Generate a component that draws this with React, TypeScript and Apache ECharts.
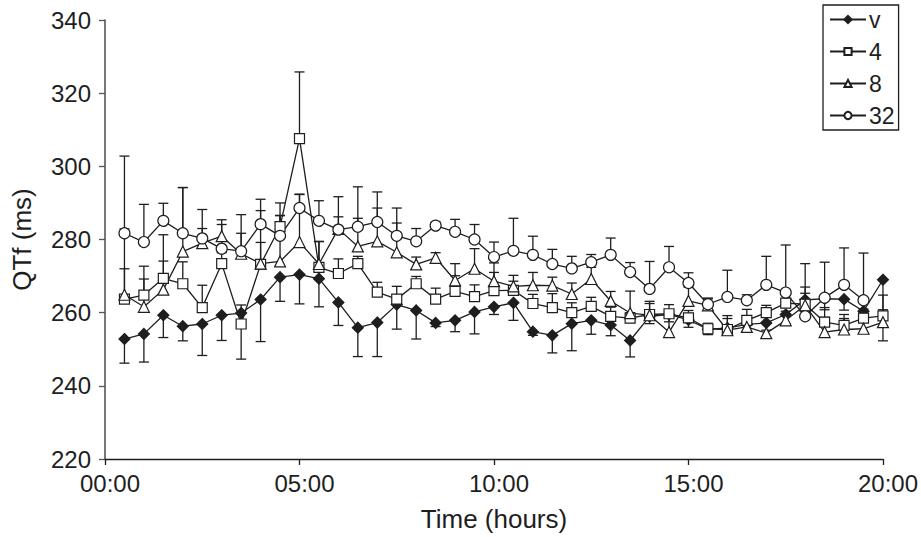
import React, { useEffect, useRef } from "react";
import * as echarts from "echarts";

const times = [0.5, 1, 1.5, 2, 2.5, 3, 3.5, 4, 4.5, 5, 5.5, 6, 6.5, 7, 7.5, 8, 8.5, 9, 9.5, 10,
  10.5, 11, 11.5, 12, 12.5, 13, 13.5, 14, 14.5, 15, 15.5, 16, 16.5, 17, 17.5, 18, 18.5, 19, 19.5, 20];

const vMean = [252.8, 254.2, 259.3, 256.3, 256.9, 259.3, 259.9, 263.6, 269.7, 270.4, 269.3, 262.8, 255.9, 257.3, 262.2, 260.6, 257.2, 257.9, 260.2, 261.6,
  262.7, 254.8, 253.8, 257.0, 257.9, 256.6, 252.4, 259.0, 259.5, 258.0, 255.5, 255.8, 256.8, 257.2, 259.5, 263.5, 263.8, 263.7, 260.4, 269.0];
const vErr = [6.6, 7.7, 6.1, 4.0, 8.6, 6.9, 12.6, 11.5, 6.6, 8.0, 7.7, 6.3, 7.9, 9.3, 6.7, 7.8, 1.0, 3.1, 6.0, 2.1,
  4.8, 1.0, 4.8, 7.4, 3.8, 2.9, 4.5, 2.0, 2.0, 2.0, 1.5, 2.0, 2.0, 2.0, 2.5, 3.0, 3.0, 3.0, 2.0, 16.7];

const s4Mean = [263.7, 264.8, 269.4, 267.9, 261.4, 273.4, 256.9, 273.2, 283.5, 307.6, 272.4, 270.7, 273.4, 265.6, 263.7, 267.9, 263.7, 265.8, 264.4, 266.0,
  266.1, 262.5, 261.4, 260.0, 261.7, 259.0, 258.5, 259.5, 259.7, 258.6, 255.6, 255.4, 257.9, 260.0, 262.6, 262.3, 257.4, 256.5, 258.5, 259.1];
const s4Err = [8.3, 7.9, 4.7, 6.0, 6.1, 3.0, 5.2, 6.0, 3.0, 18.2, 7.0, 4.0, 2.0, 2.7, 3.5, 2.0, 3.0, 4.3, 3.2, 5.0,
  2.5, 2.5, 3.8, 2.7, 2.5, 2.5, 1.5, 3.0, 2.5, 2.0, 1.5, 3.0, 3.0, 2.0, 3.0, 3.0, 4.0, 3.0, 2.5, 1.7];

const s8Mean = [264.9, 261.6, 266.3, 276.7, 279.0, 280.9, 276.1, 273.4, 274.0, 279.3, 273.3, 282.9, 278.1, 279.5, 276.5, 273.2, 275.0, 268.8, 272.0, 268.6,
  267.2, 267.5, 267.4, 265.1, 269.2, 263.2, 259.9, 259.3, 254.7, 263.2, 262.0, 255.2, 256.1, 254.4, 257.9, 262.0, 254.7, 255.4, 255.6, 257.4];
const s8Err = [18.0, 7.6, 15.0, 17.5, 4.0, 3.2, 5.6, 14.5, 12.6, 13.0, 6.2, 3.3, 7.7, 9.1, 8.0, 2.0, 1.4, 4.6, 5.5, 5.0,
  3.0, 3.5, 2.3, 3.0, 3.2, 2.6, 6.0, 3.8, 5.0, 3.8, 2.0, 4.0, 3.0, 3.0, 2.5, 5.0, 4.0, 3.0, 3.0, 7.4];

const s32Mean = [281.7, 279.3, 285.1, 281.7, 280.3, 277.5, 276.8, 284.2, 281.0, 288.6, 285.1, 282.7, 283.5, 284.8, 281.0, 279.5, 283.8, 282.1, 280.0, 275.2,
  276.9, 275.8, 273.3, 272.1, 273.8, 275.8, 271.1, 266.5, 272.4, 268.1, 262.3, 264.3, 263.4, 267.6, 265.5, 259.0, 264.1, 267.6, 263.4, null];
const s32Err = [21.1, 10.3, 4.8, 12.5, 7.9, 7.9, 10.0, 6.8, 9.0, 3.8, 5.5, 9.0, 10.9, 8.2, 7.6, 3.5, 1.0, 3.4, 4.1, 4.1,
  8.9, 5.1, 4.0, 3.3, 2.1, 4.6, 2.6, 7.5, 5.7, 2.8, 1.5, 7.3, 1.5, 7.8, 13.0, 14.4, 9.7, 10.1, 12.9, null];

const seriesNames = ["v", "4", "8", "32"];
const xTicks = ["00:00", "05:00", "10:00", "15:00", "20:00"];

const INK = "#1e1e1e";
const FONT = "'Liberation Sans', Arial, Helvetica, sans-serif";

function pairs(mean: (number | null)[]) {
  const out: number[][] = [];
  times.forEach((t, i) => {
    const m = mean[i];
    if (m != null) out.push([t, m]);
  });
  return out;
}

function errData(mean: (number | null)[], err: (number | null)[], dir: number) {
  const out: number[][] = [];
  times.forEach((t, i) => {
    const m = mean[i];
    const e = err[i];
    if (m != null && e != null) out.push([t, m, m + dir * e]);
  });
  return out;
}

function errSeries(mean: (number | null)[], err: (number | null)[], dir: number) {
  return {
    type: "custom",
    silent: true,
    z: 1,
    data: errData(mean, err, dir),
    encode: { x: 0, y: [1, 2] },
    renderItem: (params: any, api: any) => {
      const x = api.value(0);
      const p0 = api.coord([x, api.value(1)]);
      const p1 = api.coord([x, api.value(2)]);
      return {
        type: "group",
        children: [
          { type: "line", shape: { x1: p0[0], y1: p0[1], x2: p1[0], y2: p1[1] }, style: { stroke: INK, lineWidth: 1.3 } },
          { type: "line", shape: { x1: p1[0] - 5, y1: p1[1], x2: p1[0] + 5, y2: p1[1] }, style: { stroke: INK, lineWidth: 1.3 } },
        ],
      };
    },
  };
}

function lineSeries(name: string, mean: (number | null)[], symbol: string, size: number, filled: boolean) {
  return {
    type: "line",
    name,
    data: pairs(mean),
    symbol,
    symbolSize: size,
    showAllSymbol: true,
    z: 3,
    lineStyle: { color: INK, width: 1.3 },
    itemStyle: { color: filled ? INK : "#ffffff", borderColor: INK, borderWidth: 1.2 },
    emphasis: { disabled: true },
  };
}

export default function App() {
  const ref = useRef<HTMLDivElement>(null);
  useEffect(() => {
    if (!ref.current) return;
    const chart = echarts.init(ref.current, null, { renderer: "svg" });
    chart.setOption({
      animation: false,
      backgroundColor: "#ffffff",
      textStyle: { fontFamily: FONT },
      grid: { left: 105, right: 37, top: 20, bottom: 78, containLabel: false },
      legend: {
        orient: "vertical",
        left: 823,
        top: 5,
        data: seriesNames,
        itemWidth: 36,
        itemHeight: 9,
        itemGap: 9,
        padding: [3, 4, 3, 6],
        borderColor: INK,
        borderWidth: 1.3,
        textStyle: { fontSize: 23, color: INK, fontFamily: FONT, padding: [0, 0, 0, -2] },
      },
      xAxis: {
        type: "value",
        min: 0,
        max: 20,
        interval: 5,
        name: "Time (hours)",
        nameLocation: "middle",
        nameGap: 47,
        nameTextStyle: { fontSize: 26, color: INK, fontFamily: FONT },
        axisLine: { lineStyle: { color: INK, width: 1.3 } },
        axisTick: { show: true, length: 6, lineStyle: { color: INK, width: 1.3 } },
        axisLabel: {
          fontSize: 24,
          color: INK,
          margin: 12,
          fontFamily: FONT,
          padding: [0, 0, 0, 10],
          formatter: (v: number) => xTicks[Math.round(v / 5)] ?? "",
        },
        splitLine: { show: false },
      },
      yAxis: {
        type: "value",
        min: 220,
        max: 340,
        interval: 20,
        name: "QTf (ms)",
        nameLocation: "middle",
        nameGap: 70,
        nameRotate: 90,
        nameTextStyle: { fontSize: 26, color: INK, fontFamily: FONT },
        axisLine: { show: true, lineStyle: { color: "#555555", width: 1.6 } },
        axisTick: { show: true, length: 6, lineStyle: { color: "#555555", width: 1.3 } },
        axisLabel: { fontSize: 24, color: INK, margin: 14, fontFamily: FONT },
        splitLine: { show: false },
      },
      series: [
        errSeries(vMean, vErr, -1),
        errSeries(s4Mean, s4Err, 1),
        errSeries(s8Mean, s8Err, 1),
        errSeries(s32Mean, s32Err, 1),
        lineSeries("v", vMean, "diamond", 11, true),
        lineSeries("4", s4Mean, "rect", 10, false),
        lineSeries("8", s8Mean, "triangle", 11, false),
        lineSeries("32", s32Mean, "circle", 11, false),
      ],
    });
    return () => chart.dispose();
  }, []);
  return <div ref={ref} style={{ width: 921, height: 537, position: "absolute", left: 0, top: 0 }} />;
}
